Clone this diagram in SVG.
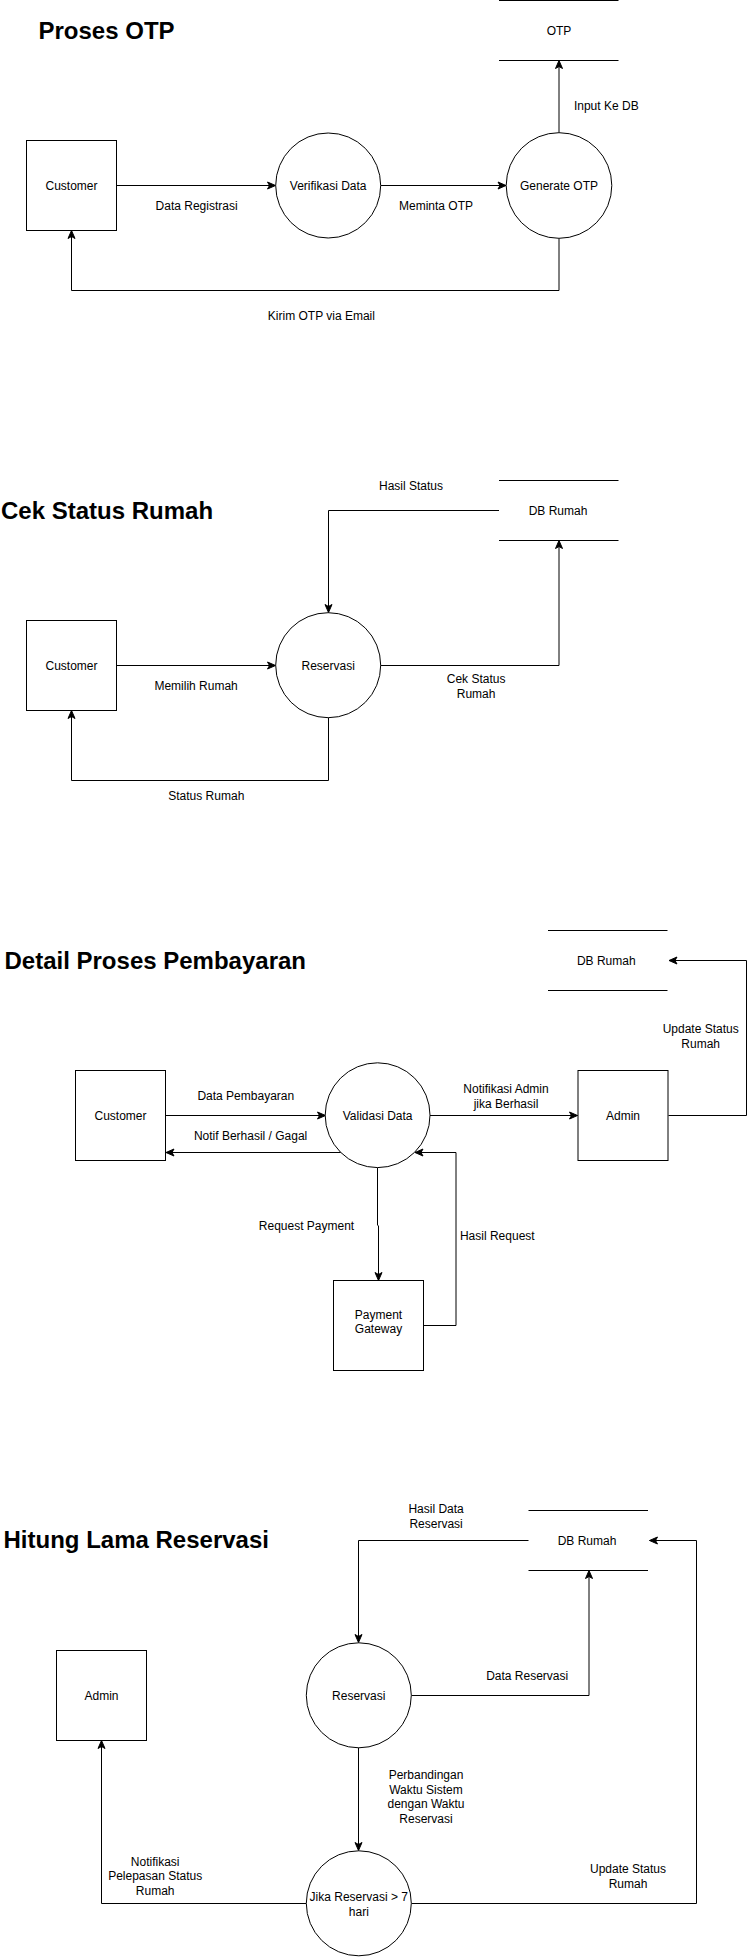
<svg xmlns="http://www.w3.org/2000/svg" width="756" height="1957" viewBox="0 0 756 1957">
<style>
text{font-family:"Liberation Sans",Arial,sans-serif;font-size:12px;fill:#000}
.t{font-size:24px;font-weight:bold}
.c{text-anchor:middle}
.n{fill:#fff;stroke:#000;stroke-width:1}
.s{fill:none;stroke:#000;stroke-width:1}
.e{fill:none;stroke:#000;stroke-width:1}
.a{marker-end:url(#ar)}
</style>
<defs>
<marker id="ar" markerUnits="userSpaceOnUse" markerWidth="10" markerHeight="10" viewBox="0 0 10 10" refX="9" refY="5" orient="auto">
<path d="M1,1.5 L9,5 L1,8.5 L3,5 Z" fill="#000" stroke="#000" stroke-width="1"/>
</marker>
</defs>
<rect width="756" height="1957" fill="#fff"/>

<text class="t" x="38.5" y="39">Proses OTP</text>
<text class="t" x="1" y="519">Cek Status Rumah</text>
<text class="t" x="4.5" y="969">Detail Proses Pembayaran</text>
<text class="t" x="3.5" y="1548">Hitung Lama Reservasi</text>

<g id="connectors">
<!-- section 1 -->
<path class="e a" d="M116.5,185.5 H275.5"/>
<path class="e a" d="M380.5,185.5 H506"/>
<path class="e a" d="M559,132.5 V60.5"/>
<path class="e a" d="M559,238.5 V290.5 H71.5 V230.5"/>
<!-- section 2 -->
<path class="e a" d="M116.5,665.5 H275.5"/>
<path class="e a" d="M380.5,665.5 H559 V540.5"/>
<path class="e a" d="M499,510.5 H328.5 V612.5"/>
<path class="e a" d="M328.5,717.5 V780.5 H71.5 V710.5"/>
<!-- section 3 -->
<path class="e a" d="M165.5,1115.5 H325.5"/>
<path class="e a" d="M341,1152.5 H166"/>
<path class="e a" d="M430,1115.5 H577.5"/>
<path class="e a" d="M668.5,1115.5 H746.5 V960.5 H669"/>
<path class="e a" d="M377.5,1167.5 V1225 L378.5,1226 V1280.5"/>
<path class="e a" d="M423.5,1325.5 H456 V1152.5 H415"/>
<!-- section 4 -->
<path class="e a" d="M528.5,1540.5 H358.5 V1642.5"/>
<path class="e a" d="M411.5,1695.5 H589 V1570.5"/>
<path class="e a" d="M358.5,1747.5 V1850.5"/>
<path class="e a" d="M306,1903.5 H101.5 V1740.5"/>
<path class="e a" d="M411.5,1903.5 H696.5 V1540.5 H649.5"/>
</g>

<g id="labels">
<text class="c" x="196.6" y="210">Data Registrasi</text>
<text class="c" x="436" y="210">Meminta OTP</text>
<text class="c" x="606.3" y="110">Input Ke DB</text>
<text class="c" x="321.4" y="320">Kirim OTP via Email</text>

<text class="c" x="196.1" y="690">Memilih Rumah</text>
<text class="c" x="476.1" y="683">Cek Status</text>
<text class="c" x="476.1" y="698">Rumah</text>
<text class="c" x="411" y="490">Hasil Status</text>
<text class="c" x="206.3" y="799.5">Status Rumah</text>

<text class="c" x="245.8" y="1100">Data Pembayaran</text>
<text class="c" x="250.6" y="1140">Notif Berhasil / Gagal</text>
<text class="c" x="506" y="1093">Notifikasi Admin</text>
<text class="c" x="506" y="1108">jika Berhasil</text>
<text class="c" x="700.7" y="1033">Update Status</text>
<text class="c" x="700.7" y="1048">Rumah</text>
<text class="c" x="306.5" y="1229.5">Request Payment</text>
<text class="c" x="497.3" y="1240">Hasil Request</text>

<text class="c" x="436.1" y="1513">Hasil Data</text>
<text class="c" x="436.1" y="1527.5">Reservasi</text>
<text class="c" x="527.2" y="1680">Data Reservasi</text>
<text class="c" x="426" y="1779">Perbandingan</text>
<text class="c" x="426" y="1793.5">Waktu Sistem</text>
<text class="c" x="426" y="1808">dengan Waktu</text>
<text class="c" x="426" y="1822.5">Reservasi</text>
<text class="c" x="155.2" y="1865.5">Notifikasi</text>
<text class="c" x="155.2" y="1880">Pelepasan Status</text>
<text class="c" x="155.2" y="1895">Rumah</text>
<text class="c" x="628" y="1873">Update Status</text>
<text class="c" x="628" y="1887.5">Rumah</text>
</g>

<g id="otp-store">
<path class="s" d="M499,0.5 H618.5 M499,60.5 H618.5"/>
<text class="c" x="559" y="35">OTP</text>
</g>
<g id="customer1">
<rect class="n" x="26.5" y="140.5" width="90" height="90"/>
<text class="c" x="71.5" y="190">Customer</text>
</g>
<g id="verifikasi-data">
<circle class="n" cx="328.2" cy="185.5" r="52.5"/>
<text class="c" x="328.2" y="190">Verifikasi Data</text>
</g>
<g id="generate-otp">
<circle class="n" cx="559" cy="185.5" r="52.8"/>
<text class="c" x="559" y="190">Generate OTP</text>
</g>

<g id="db-rumah2">
<path class="s" d="M499,480.5 H618.5 M499,540.5 H618.5"/>
<text class="c" x="558" y="515">DB Rumah</text>
</g>
<g id="customer2">
<rect class="n" x="26.5" y="620.5" width="90" height="90"/>
<text class="c" x="71.5" y="670">Customer</text>
</g>
<g id="reservasi2">
<circle class="n" cx="328.2" cy="665.2" r="52.5"/>
<text class="c" x="328.2" y="670">Reservasi</text>
</g>

<g id="db-rumah3">
<path class="s" d="M548,930.5 H667.5 M548,990.5 H667.5"/>
<text class="c" x="606.3" y="965">DB Rumah</text>
</g>
<g id="customer3">
<rect class="n" x="75.5" y="1070.5" width="90" height="90"/>
<text class="c" x="120.5" y="1120">Customer</text>
</g>
<g id="validasi-data">
<circle class="n" cx="377.6" cy="1115.2" r="52.4"/>
<text class="c" x="377.6" y="1120">Validasi Data</text>
</g>
<g id="admin3">
<rect class="n" x="578" y="1070.5" width="90" height="90"/>
<text class="c" x="623" y="1120">Admin</text>
</g>
<g id="payment-gateway">
<rect class="n" x="333.5" y="1280.5" width="90" height="90"/>
<text class="c" x="378.5" y="1318.5">Payment</text>
<text class="c" x="378.5" y="1333">Gateway</text>
</g>

<g id="db-rumah4">
<path class="s" d="M528.5,1510.5 H648 M528.5,1570.5 H648"/>
<text class="c" x="587" y="1545">DB Rumah</text>
</g>
<g id="admin4">
<rect class="n" x="56.5" y="1650.5" width="90" height="90"/>
<text class="c" x="101.5" y="1700">Admin</text>
</g>
<g id="reservasi4">
<circle class="n" cx="358.8" cy="1695.3" r="52.5"/>
<text class="c" x="358.8" y="1700">Reservasi</text>
</g>
<g id="jika-reservasi">
<circle class="n" cx="358.8" cy="1903.3" r="52.5"/>
<text class="c" x="358.8" y="1901">Jika Reservasi &gt; 7</text>
<text class="c" x="358.8" y="1916">hari</text>
</g>
</svg>
